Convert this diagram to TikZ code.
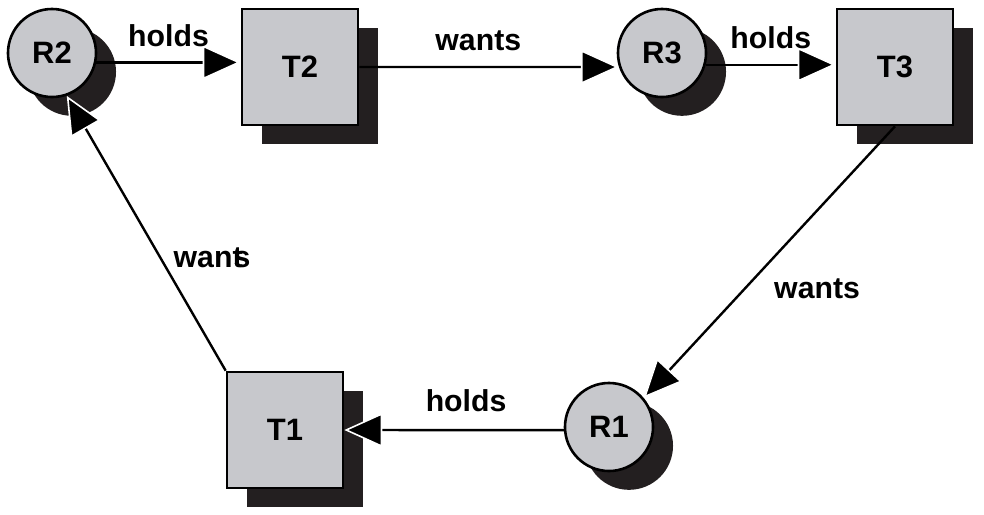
\documentclass[tikz,border=0pt]{standalone}
\usepackage{fontspec}
\setmainfont{Liberation Sans}
\usetikzlibrary{positioning}
\usetikzlibrary{arrows.meta}
\usetikzlibrary{shadows}

\definecolor{boxgray}{RGB}{199,200,204}
\definecolor{shadowgray}{RGB}{35,31,32}

\begin{document}
\begin{tikzpicture}[x=0.025cm,y=-0.025cm,
  dropped/.style={drop shadow={shadow xshift=0.5cm, shadow yshift=-0.47cm,
      opacity=1, fill=shadowgray}},
  res/.style={circle, draw, line width=0.65mm, fill=boxgray, dropped,
      minimum size=2.2cm, inner sep=0pt, font=\fontsize{22}{26}\selectfont\bfseries},
  task/.style={rectangle, draw, line width=0.65mm, fill=boxgray, dropped,
      minimum size=2.9cm, inner sep=0pt, font=\fontsize{22}{26}\selectfont\bfseries},
  arr/.style={line width=0.6mm,
      -{Triangle[length=0.95cm, width=0.85cm, color=white, fill=black, line width=0.4mm]}},
  lbl/.style={inner sep=0pt, font=\fontsize{21.5}{26}\selectfont\bfseries}]

  \useasboundingbox (0,0) rectangle (984,514);

  % resources
  \node[res] (R2) at (52,53)   {R2};
  \node[res] (R3) at (662,53)  {R3};
  \node[res] (R1) at (609,427) {R1};

  % tasks
  \node[task] (T2) at (300,67)  {T2};
  \node[task] (T3) at (895,67)  {T3};
  \node[task] (T1) at (285,430) {T1};

  % holds / wants edges
  \draw[arr] (R2.-12) -- (R2.-12 -| T2.west)
  node[lbl, midway, above=0.37cm] {holds};

  \draw[arr] (T2.east) -- (R3.198)
  node[lbl, midway, above=0.37cm, xshift=-0.27cm] {wants};

  \draw[arr] (R3.-15) -- (R3.-15 -| T3.west)
  node[lbl, midway, above=0.37cm] {holds};

  \draw[arr] (T3.south) -- (R1.40)
  node[lbl, pos=0.6, right=0.72cm] {wants};

  \draw[arr] (R1.184) -- (T1.east)
  node[lbl, midway, above=0.42cm, xshift=0.3cm] {holds};

  \draw[arr] (T1.north west) -- (R2.289)
  node[lbl, pos=0.41, right=0.3cm] {want\kern-0.3em s};

\end{tikzpicture}
\end{document}
